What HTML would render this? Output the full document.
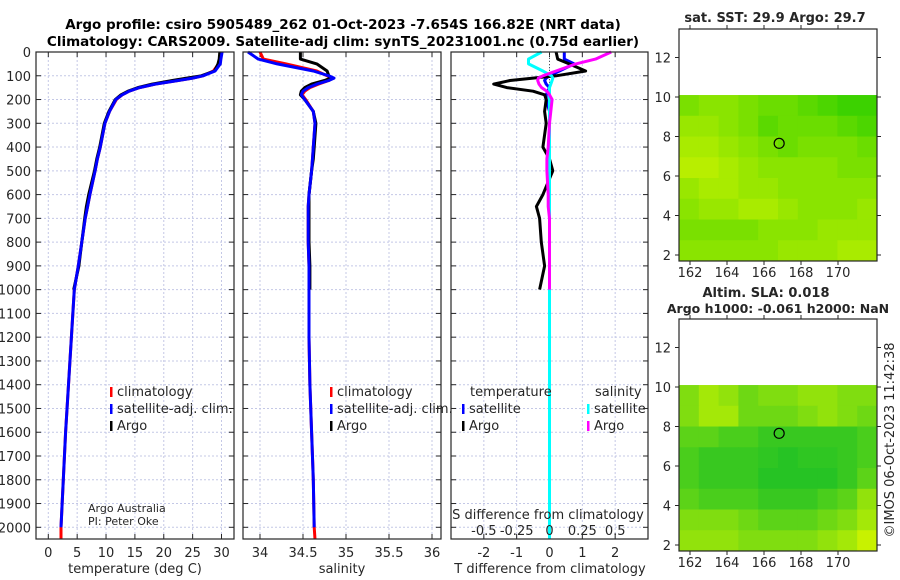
<!DOCTYPE html>
<html><head><meta charset="utf-8"><style>
body{margin:0;background:#fff}
svg{display:block;font-family:"DejaVu Sans","Liberation Sans",sans-serif}
</style></head><body>
<svg id="fig" width="900" height="580" viewBox="0 0 900 580">
<text x="343" y="29" text-anchor="middle" font-size="13.5" font-weight="bold">Argo profile: csiro 5905489_262 01-Oct-2023 -7.654S 166.82E (NRT data)</text>
<text x="343" y="46" text-anchor="middle" font-size="13.5" font-weight="bold">Climatology: CARS2009. Satellite-adj clim: synTS_20231001.nc (0.75d earlier)</text>
<g id="g"></g>
</svg>
<script>
// ---- data ----
const depthTicks=[0,100,200,300,400,500,600,700,800,900,1000,1100,1200,1300,1400,1500,1600,1700,1800,1900,2000];
const tTicks=[0,5,10,15,20,25,30];
const sTicks=[34,34.5,35,35.5,36];
const dTTicks=[-2,-1,0,1,2];
const dSTicks=[-0.5,-0.25,0,0.25,0.5];
const dSTickLabels=["-0.5","-0.25","0","0.25","0.5"];
const argoDepth=[0,30,50,80,100,110,120,135,150,165,180,200,250,300,400,450,500,600,650,700,800,900,1000];
const climDepth=[0,30,50,80,100,110,120,135,150,165,180,200,250,300,400,450,500,600,650,700,800,900,1000,1200,1400,1600,1800,2000,2050];
const argoT=[29.7,29.6,29.4,28.8,26.5,24.0,21.5,18.0,15.5,13.8,12.6,11.6,10.5,9.7,8.9,8.4,8.0,7.0,6.6,6.3,5.8,5.3,4.4];
const climT=[30.0,29.8,29.5,28.6,26.8,25.0,22.5,18.5,15.8,14.0,12.8,11.8,10.6,9.8,9.0,8.5,8.1,7.2,6.8,6.4,5.8,5.2,4.5,4.0,3.5,3.0,2.6,2.2,2.2];
const satT=[30.1,29.9,29.8,28.9,26.8,25.0,22.5,18.5,15.8,14.0,12.8,11.7,10.6,9.8,9.0,8.5,8.1,7.2,6.8,6.4,5.8,5.2,4.5,4.0,3.5,3.0,2.6,2.2,2.2];
const argoS=[34.47,34.47,34.66,34.78,34.80,34.82,34.75,34.60,34.52,34.48,34.47,34.52,34.62,34.65,34.63,34.62,34.60,34.57,34.57,34.57,34.57,34.58,34.58];
const climS=[34.0,34.04,34.3,34.66,34.78,34.84,34.80,34.68,34.58,34.52,34.49,34.53,34.62,34.64,34.62,34.61,34.60,34.57,34.56,34.56,34.56,34.57,34.57,34.57,34.58,34.60,34.62,34.63,34.64];
const satS=[33.86,33.98,34.2,34.62,34.80,34.86,34.80,34.66,34.56,34.50,34.48,34.52,34.62,34.64,34.62,34.61,34.60,34.57,34.56,34.56,34.56,34.57,34.57,34.57,34.58,34.60,34.62,34.63,34.64];
const argoDT=[0.2,0.25,0.6,1.1,0.2,-0.5,-1.2,-1.7,-1.3,-0.5,-0.15,-0.1,-0.15,-0.1,-0.2,0.0,0.1,-0.2,-0.4,-0.3,-0.25,-0.15,-0.3];
const satDT=[0.45,0.45,0.75,0.3,0.0,-0.1,-0.15,-0.1,0.0,-0.05,-0.1,-0.1,0.0,0.0,0.0,0.0,0.0,0.0,0.0,0.0,0.0,0.0,0.0,0.0,0.0,0.0,0.0,0.0,0.0];
const argoDS=[0.47,0.35,0.2,0.05,-0.05,-0.085,-0.09,-0.08,-0.06,-0.02,0.0,0.02,0.01,0.0,-0.01,-0.02,-0.02,-0.01,-0.01,0.0,0.0,0.0,0.0];
const satDS=[-0.06,-0.16,-0.16,-0.05,0.015,0.025,0.02,0.01,0.0,0.0,0.0,0.0,0.0,0.0,0.0,0.0,0.0,0.0,0.0,0.0,0.0,0.0,0.0,0.0,0.0,0.0,0.0,0.0,0.0];
const lonTicks=[162,164,166,168,170];
const latTicks=[2,4,6,8,10,12];
const sstGrid=[
[0.6,0.5,0.5,0.6,0.7,0.7,0.8,0.9,1,1],
[0.4,0.4,0.5,0.6,0.8,0.7,0.7,0.7,0.8,0.9],
[0.3,0.3,0.4,0.5,0.6,0.7,0.6,0.6,0.6,0.7],
[0.2,0.2,0.3,0.4,0.5,0.5,0.5,0.5,0.6,0.6],
[0.4,0.3,0.3,0.4,0.4,0.5,0.5,0.5,0.5,0.5],
[0.5,0.4,0.4,0.3,0.3,0.4,0.5,0.5,0.5,0.4],
[0.6,0.6,0.6,0.6,0.5,0.5,0.5,0.4,0.4,0.4],
[0.5,0.5,0.5,0.5,0.5,0.4,0.4,0.4,0.3,0.3]];
const slaGrid=[
[0.4,0.2,0.3,0.5,0.4,0.4,0.3,0.3,0.4,0.4],
[0.4,0.2,0.2,0.5,0.5,0.5,0.4,0.3,0.4,0.5],
[0.6,0.6,0.7,0.7,0.8,0.8,0.8,0.8,0.8,0.7],
[0.7,0.8,0.8,0.8,0.85,0.9,0.85,0.85,0.8,0.7],
[0.7,0.8,0.8,0.8,0.9,0.9,0.9,0.9,0.8,0.6],
[0.6,0.7,0.7,0.7,0.8,0.8,0.8,0.7,0.6,0.3],
[0.4,0.4,0.4,0.5,0.6,0.6,0.6,0.5,0.4,0.2],
[0.3,0.3,0.3,0.4,0.4,0.4,0.4,0.3,0.2,0.0]];
const floatLon=166.82, floatLat=7.654;

// ---- helpers ----
const NS="http://www.w3.org/2000/svg";
const G=document.getElementById('g');
function el(t,a,p){const e=document.createElementNS(NS,t);for(const k in a)e.setAttribute(k,a[k]);(p||G).appendChild(e);return e;}
function txt(x,y,s,size,anchor,p){const e=el('text',{x:x,y:y,'font-size':size||13,'text-anchor':anchor||'middle',fill:'#262626'},p);e.textContent=s;return e;}
const Y0=52,Y1=539;
const yD=d=>Y0+d*(527.3-52)/2000;
function lin(d0,d1,p0,p1){return v=>p0+(v-d0)*(p1-p0)/(d1-d0);}
const panels=[
 {x0:36,x1:234,sx:lin(0,30,48.3,221.5),ticks:tTicks,name:'temperature-panel'},
 {x0:243,x1:441,sx:lin(34,36,260,432),ticks:sTicks,name:'salinity-panel'},
 {x0:451,x1:648,sx:lin(-3,3,451,648),ticks:dTTicks,name:'difference-panel'}];
function frame(p){
 const g=el('g',{});
 
 
 p.ticks.forEach(t=>{el('line',{x1:p.sx(t),x2:p.sx(t),y1:Y0,y2:Y1,stroke:'#c4c8e6','stroke-dasharray':'2,2','stroke-width':1},g);});
 depthTicks.forEach(d=>{el('line',{x1:p.x0,x2:p.x1,y1:yD(d),y2:yD(d),stroke:'#c4c8e6','stroke-dasharray':'2,2','stroke-width':1},g);
   el('line',{x1:p.x0,x2:p.x0+5,y1:yD(d),y2:yD(d),stroke:'#262626'},g);el('line',{x1:p.x1-5,x2:p.x1,y1:yD(d),y2:yD(d),stroke:'#262626'},g);});
 p.ticks.forEach(t=>{el('line',{x1:p.sx(t),x2:p.sx(t),y1:Y1,y2:Y1-5,stroke:'#262626'},g);el('line',{x1:p.sx(t),x2:p.sx(t),y1:Y0,y2:Y0+5,stroke:'#262626'},g);
   txt(p.sx(t),557,String(t),13,'middle',g);});
 return g;
}
function line(xs,ds,sx,color,w,name){
 const pts=xs.map((v,i)=>sx(v).toFixed(1)+','+yD(ds[i]).toFixed(1)).join(' ');
 const e=el('polyline',{points:pts,fill:'none',stroke:color,'stroke-width':w,'stroke-linejoin':'round'});
 
 
}
panels.forEach(frame);
depthTicks.forEach(d=>txt(31,yD(d)+5,String(d),13,'end'));
const p1=panels[0],p2=panels[1],p3=panels[2];
line(climT,climDepth,p1.sx,'#ff0000',3,'temp-climatology-line');
line(argoT,argoDepth,p1.sx,'#000000',3,'temp-argo-line');
line(satT.slice(0,-1),climDepth.slice(0,-1),p1.sx,'#0000ff',3,'temp-satellite-line');
line(climS,climDepth,p2.sx,'#ff0000',3,'sal-climatology-line');
line(argoS,argoDepth,p2.sx,'#000000',3,'sal-argo-line');
line(satS.slice(0,-1),climDepth.slice(0,-1),p2.sx,'#0000ff',3,'sal-satellite-line');
el('line',{x1:p3.sx(0),x2:p3.sx(0),y1:Y0,y2:Y1,stroke:'#555','stroke-dasharray':'1,2'});
const sxS=v=>p3.sx(v*4);
line(satDT,climDepth,p3.sx,'#0000ff',3,'tdiff-satellite-line');
line(argoDT,argoDepth,p3.sx,'#000000',3,'tdiff-argo-line');
line(satDS,climDepth,sxS,'#00ffff',3,'sdiff-satellite-line');
line(argoDS,argoDepth,sxS,'#ff00ff',3,'sdiff-argo-line');
// legends
function leg(x,y,c,label,name){const g=el('g',{});
 el('rect',{x:x,y:y-9,width:2.5,height:10,fill:c},g);txt(x+7,y,label,13,'start',g);}
leg(110,396,'#ff0000','climatology','legend-climatology-t');
leg(110,413,'#0000ff','satellite-adj. clim.','legend-satellite-t');
leg(110,430,'#000000','Argo','legend-argo-t');
leg(330,396,'#ff0000','climatology','legend-climatology-s');
leg(330,413,'#0000ff','satellite-adj. clim.','legend-satellite-s');
leg(330,430,'#000000','Argo','legend-argo-s');
txt(470,396,'temperature',13,'start');
txt(595,396,'salinity',13,'start');
leg(462,413,'#0000ff','satellite','legend-tdiff-satellite');
leg(462,430,'#000000','Argo','legend-tdiff-argo');
leg(587,413,'#00ffff','satellite','legend-sdiff-satellite');
leg(587,430,'#ff00ff','Argo','legend-sdiff-argo');
panels.forEach(p=>el('rect',{x:p.x0,y:Y0,width:p.x1-p.x0,height:Y1-Y0,fill:'none',stroke:'#262626','stroke-width':1.2}));
txt(135,573,'temperature (deg C)',13);
txt(342,573,'salinity',13);
txt(550,573,'T difference from climatology',13);
txt(548,519,'S difference from climatology',13);
dSTicks.forEach((t,i)=>txt(sxS(t),535,dSTickLabels[i],13));
txt(88,512,'Argo Australia',11,'start');
txt(88,525,'PI: Peter Oke',11,'start');
// maps
function mix(a,b,t){const c=[0,1,2].map(i=>Math.round(a[i]+(b[i]-a[i])*t));return 'rgb('+c.join(',')+')';}
function map(top,grid,c0,c1,title1,title2,name){
 const x0=679,x1=877,bot=top+232;
 const lx=lin(162,170,690,838), ly=lin(2,10,bot-6,bot-6-158);
 const g=el('g',{});
 const rows=grid.length,cols=grid[0].length;
 const dTop=ly(10.1),cw=(x1-x0)/cols,ch=(bot-dTop)/rows;
 grid.forEach((r,i)=>r.forEach((v,j)=>{const c=el('rect',{x:x0+j*cw,y:dTop+i*ch,width:cw+0.5,height:ch+0.5,fill:mix(c0,c1,v)},g);
   }));
 el('circle',{cx:lx(floatLon),cy:ly(floatLat),r:5,fill:'none',stroke:'#000','stroke-width':1.2},g);
 el('rect',{x:x0,y:top,width:x1-x0,height:bot-top,fill:'none',stroke:'#262626','stroke-width':1.2},g);
 lonTicks.forEach(t=>{el('line',{x1:lx(t),x2:lx(t),y1:bot,y2:bot+4,stroke:'#262626'},g);el('line',{x1:lx(t),x2:lx(t),y1:top,y2:top-4,stroke:'#262626'},g);txt(lx(t),bot+16,String(t),13,'middle',g);});
 latTicks.forEach(t=>{el('line',{x1:x0,x2:x0-4,y1:ly(t),y2:ly(t),stroke:'#262626'},g);el('line',{x1:x1,x2:x1+4,y1:ly(t),y2:ly(t),stroke:'#262626'},g);txt(x0-8,ly(t)+5,String(t),13,'end',g);});
 if(title2){const a=txt(766,top-22,title1,13,'middle',g);a.setAttribute('font-weight','bold');const b=txt(778,top-6,title2,12.5,'middle',g);b.setAttribute('font-weight','bold');}
 else{const a=txt(775,top-7,title1,13,'middle',g);a.setAttribute('font-weight','bold');}
}
map(29,sstGrid,[215,245,0],[60,210,0],'sat. SST: 29.9 Argo: 29.7',null,'sst-map');
map(319,slaGrid,[200,242,0],[20,190,40],'Altim. SLA: 0.018','Argo h1000: -0.061 h2000: NaN','sla-map');
const imos=txt(0,0,'©IMOS 06-Oct-2023 11:42:38',13,'middle');
imos.setAttribute('transform','translate(894,440) rotate(-90)');


</script>
</body></html>
